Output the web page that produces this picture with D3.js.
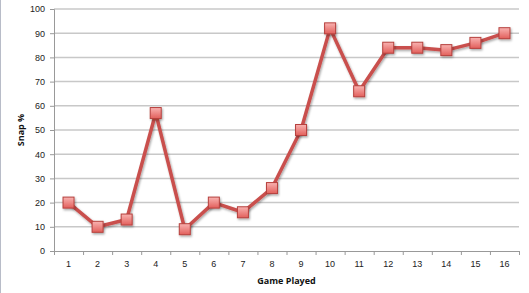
<!DOCTYPE html>
<html lang="en">
  <head>
    <meta charset="utf-8" />
    <title>snaps</title>
    <script src="https://d3js.org/d3.v7.min.js"></script>
    <style>
      body { margin: 0; padding: 0; background: #fff; }
      svg { display: block; font-family: "Open Sans", "Liberation Sans", sans-serif; }
      .tick text { font-size: 9px; fill: #222; }
      .axisTitle { font-size: 9px; font-weight: bold; fill: #111; }
    </style>
  </head>
  <body>
    <svg id="chart" width="529" height="293"></svg>
    <script>
      // data
      var games = ["1","2","3","4","5","6","7","8","9","10","11","12","13","14","15","16"];
      var snapPct = [20, 10, 13, 57, 9, 20, 16, 26, 50, 92, 66, 84, 84, 83, 86, 90];
      var yTicks = [0, 10, 20, 30, 40, 50, 60, 70, 80, 90, 100];

      var svg = d3.select("#chart");
      var margin = {top: 9, right: 10, bottom: 42, left: 54};
      var width = 529 - margin.left - margin.right;
      var height = 293 - margin.top - margin.bottom;

      // left frame edge
      svg.append("line")
        .attr("x1", 0.5).attr("x2", 0.5)
        .attr("y1", 0).attr("y2", 293)
        .attr("stroke", "#b8bcc8").attr("stroke-width", 1);

      var defs = svg.append("defs");
      var grad = defs.append("linearGradient")
        .attr("id", "mk").attr("x1", 0).attr("y1", 0).attr("x2", 0).attr("y2", 1);
      grad.append("stop").attr("offset", "0%").attr("stop-color", "#f9b3b1");
      grad.append("stop").attr("offset", "100%").attr("stop-color", "#e25f5b");
      var shadow = defs.append("filter").attr("id", "sh")
        .attr("x", "-50%").attr("y", "-50%").attr("width", "200%").attr("height", "200%");
      shadow.append("feDropShadow").attr("dx", 1).attr("dy", 1.5)
        .attr("stdDeviation", 1).attr("flood-color", "#000").attr("flood-opacity", 0.35);

      var g = svg.append("g")
        .attr("transform", "translate(" + margin.left + "," + margin.top + ")");

      var x = d3.scaleBand().domain(games).range([0, width]);
      var y = d3.scaleLinear().domain([0, 100]).range([height, 0]);

      // gridlines
      g.append("g")
        .selectAll("line")
        .data(yTicks.slice(1))
        .enter().append("line")
        .attr("x1", 0).attr("x2", width)
        .attr("y1", function(d){ return y(d); })
        .attr("y2", function(d){ return y(d); })
        .attr("stroke", "#c8c8c8")
        .attr("stroke-width", 1.5);

      // y axis
      var yAxis = g.append("g")
        .call(d3.axisLeft(y).tickValues(yTicks).tickSize(4).tickPadding(5));
      yAxis.select(".domain").attr("stroke", "#999");
      yAxis.selectAll(".tick line").attr("stroke", "#999");

      // x axis with ticks at band boundaries
      var xAxis = g.append("g")
        .attr("transform", "translate(0," + height + ")")
        .call(d3.axisBottom(x).tickSize(0).tickPadding(10));
      xAxis.select(".domain").attr("stroke", "#999");
      xAxis.selectAll(".bnd")
        .data(d3.range(games.length + 1))
        .enter().append("line")
        .attr("class", "bnd")
        .attr("x1", function(i){ return i * x.bandwidth() + 0.5; })
        .attr("x2", function(i){ return i * x.bandwidth() + 0.5; })
        .attr("y1", 0).attr("y2", 4)
        .attr("stroke", "#999");

      // line
      var line = d3.line()
        .x(function(d, i){ return x(games[i]) + x.bandwidth() / 2; })
        .y(function(d){ return y(d); });

      g.append("path")
        .datum(snapPct)
        .attr("fill", "none")
        .attr("stroke", "#c9504d")
        .attr("stroke-width", 3.5)
        .attr("stroke-linejoin", "round")
        .attr("filter", "url(#sh)")
        .attr("d", line);

      // markers
      var ms = 11;
      g.selectAll(".marker")
        .data(snapPct)
        .enter().append("rect")
        .attr("class", "marker")
        .attr("x", function(d, i){ return x(games[i]) + x.bandwidth() / 2 - ms / 2; })
        .attr("y", function(d){ return y(d) - ms / 2; })
        .attr("width", ms).attr("height", ms)
        .attr("fill", "url(#mk)")
        .attr("stroke", "#b6403d")
        .attr("stroke-width", 1)
        .attr("filter", "url(#sh)");

      // axis titles
      svg.append("text")
        .attr("class", "axisTitle")
        .attr("x", margin.left + width / 2)
        .attr("y", 284)
        .attr("text-anchor", "middle")
        .text("Game Played");

      svg.append("text")
        .attr("class", "axisTitle")
        .attr("transform", "translate(24," + (margin.top + height / 2) + ") rotate(-90)")
        .attr("text-anchor", "middle")
        .text("Snap %");
    </script>
  </body>
</html>
